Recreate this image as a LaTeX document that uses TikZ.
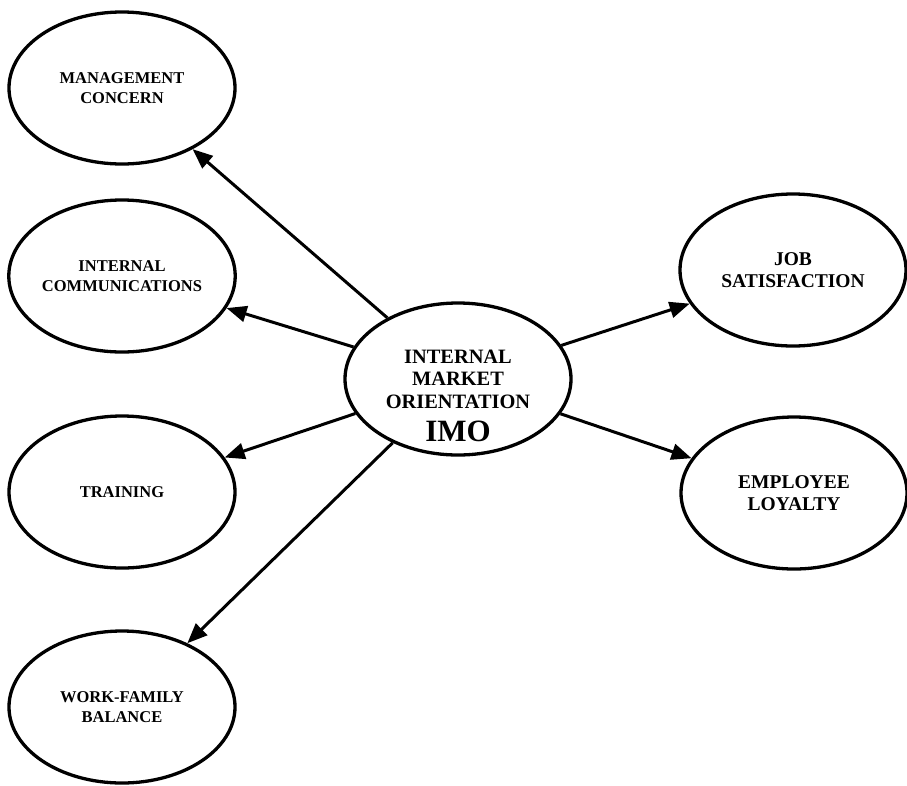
\documentclass[tikz,border=0pt]{standalone}
\usepackage{fontspec}
\setmainfont{Liberation Serif}
\usetikzlibrary{shapes.geometric,arrows.meta}
\begin{document}
\begin{tikzpicture}[x=1pt,y=-1pt,
  bubble/.style={ellipse,draw,line width=3.3pt,minimum width=226pt,minimum height=152pt,inner sep=0pt,align=center},
  small/.style={font=\bfseries\fontsize{16.5}{20}\selectfont},
  big/.style={font=\bfseries\fontsize{19.5}{22}\selectfont},
  imotxt/.style={font=\bfseries\fontsize{20.4}{22.5}\selectfont,align=center,inner sep=0pt,yshift=-17pt},
  link/.style={line width=3pt,-{Triangle[length=20pt,width=16pt]}}]
\useasboundingbox (0,0) rectangle (907,785);
\node[bubble,small] (mc)  at (122,88)  {MANAGEMENT\\CONCERN};
\node[bubble,small] (ic)  at (122,276) {INTERNAL\\COMMUNICATIONS};
\node[bubble,small] (tr)  at (122,492) {TRAINING};
\node[bubble,small] (wf)  at (122,707) {WORK-FAMILY\\BALANCE};
\node[bubble,label={[imotxt]center:INTERNAL\\MARKET\\ORIENTATION\\[11pt]{\fontsize{31}{32}\selectfont IMO}}] (imo) at (458,379) {};
\node[bubble,big] (js) at (793,270) {JOB\\SATISFACTION};
\node[bubble,big] (el) at (794,493) {EMPLOYEE\\LOYALTY};
\draw[link] (imo) -- (mc);
\draw[link] (imo) -- (ic);
\draw[link] (imo) -- (tr);
\draw[link] (imo) -- (wf);
\draw[link] (imo) -- (js);
\draw[link] (imo) -- (el);
\end{tikzpicture}
\end{document}
